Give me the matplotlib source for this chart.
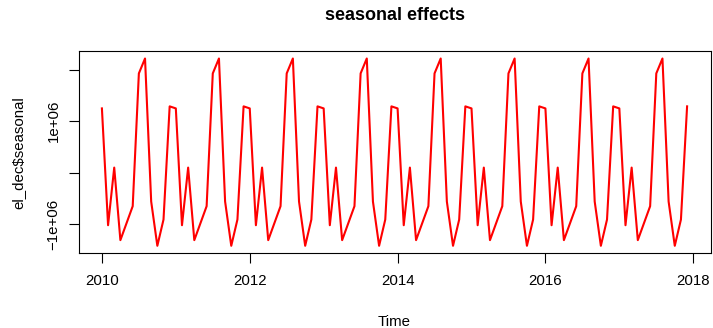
import numpy as np
import matplotlib
matplotlib.use("Agg")
import matplotlib.pyplot as plt

plt.rcParams['font.family'] = ['Liberation Sans', 'DejaVu Sans']

# seasonal component, one row per year (Jan..Dec), in units of 1e6
start_year = 2010
seasonal_rows = [
    [1.25, -1.02, 0.10, -1.31, -0.98, -0.65, 1.93, 2.22, -0.56, -1.42, -0.91, 1.29],
    [1.25, -1.02, 0.10, -1.31, -0.98, -0.65, 1.93, 2.22, -0.56, -1.42, -0.91, 1.29],
    [1.25, -1.02, 0.10, -1.31, -0.98, -0.65, 1.93, 2.22, -0.56, -1.42, -0.91, 1.29],
    [1.25, -1.02, 0.10, -1.31, -0.98, -0.65, 1.93, 2.22, -0.56, -1.42, -0.91, 1.29],
    [1.25, -1.02, 0.10, -1.31, -0.98, -0.65, 1.93, 2.22, -0.56, -1.42, -0.91, 1.29],
    [1.25, -1.02, 0.10, -1.31, -0.98, -0.65, 1.93, 2.22, -0.56, -1.42, -0.91, 1.29],
    [1.25, -1.02, 0.10, -1.31, -0.98, -0.65, 1.93, 2.22, -0.56, -1.42, -0.91, 1.29],
    [1.25, -1.02, 0.10, -1.31, -0.98, -0.65, 1.93, 2.22, -0.56, -1.42, -0.91, 1.29],
]
x_ticks = [2010, 2012, 2014, 2016, 2018]
y_ticks = [-1e6, 0, 1e6, 2e6]
y_ticklabels = ['\u22121e+06', '', '1e+06', '']

seasonal = np.array(seasonal_rows).ravel() * 1e6
t = start_year + np.arange(len(seasonal)) / 12.0

fig = plt.figure(figsize=(7.13, 3.28), dpi=100)
ax = fig.add_axes([78.5 / 713, 1 - 253.3 / 328, 632 / 713, 202.3 / 328])
ax.plot(t, seasonal, color='red', lw=1.5)

# R style 4% padding
xr = t.max() - t.min()
yr = seasonal.max() - seasonal.min()
ax.set_xlim(t.min() - 0.04 * xr, t.max() + 0.04 * xr)
ax.set_ylim(seasonal.min() - 0.04 * yr, seasonal.max() + 0.04 * yr)

ax.set_xticks(x_ticks)
ax.set_xticklabels([str(v) for v in x_ticks])
ax.set_yticks(y_ticks)
ax.set_yticklabels(y_ticklabels, rotation=90, va='center')
ax.tick_params(length=7, width=0.8, labelsize=10.8, pad=8, color='black')
ax.tick_params(axis='y', pad=6)
for s in ax.spines.values():
    s.set_linewidth(0.8)

ax.set_xlabel('Time', fontsize=10.8, labelpad=19)
ax.set_ylabel('el_dec$seasonal', fontsize=10.8, labelpad=15)
fig.text(394.5 / 713, 1 - 16 / 328, 'seasonal effects', ha='center', va='center',
         fontsize=13, fontweight='bold')

fig.savefig('out.png', dpi=100)
